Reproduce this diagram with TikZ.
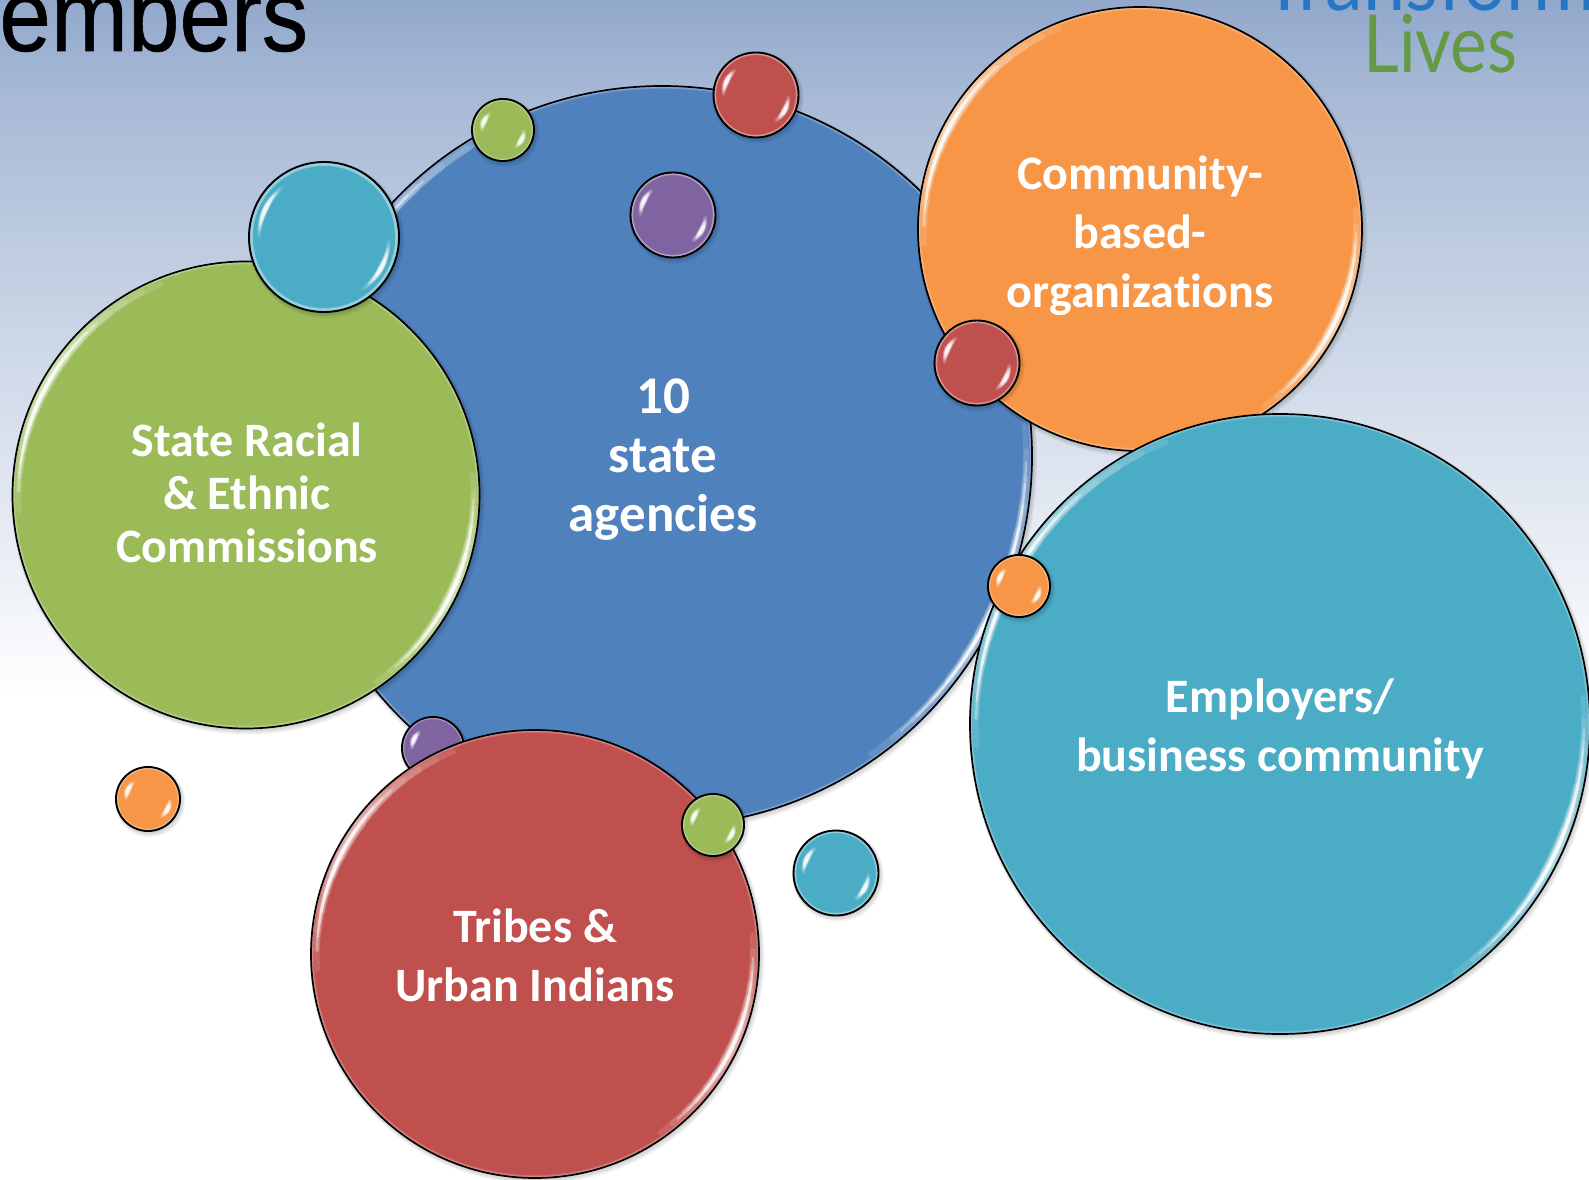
\documentclass[tikz,border=0pt]{standalone}
\usepackage{fontspec}
\setmainfont[Ligatures=NoCommon]{Carlito}
\newfontfamily\titlef[FakeBold=0.6]{Liberation Sans}
\newfontfamily\logof{Lato}
\definecolor{cblue}{HTML}{4F81BD}
\definecolor{corange}{HTML}{F79646}
\definecolor{cteal}{HTML}{4BACC6}
\definecolor{cgreen}{HTML}{9BBB59}
\definecolor{cred}{HTML}{C0504D}
\definecolor{cpurple}{HTML}{8064A2}
\definecolor{logoblue}{HTML}{2377C4}
\definecolor{logogreen}{HTML}{659A44}
\definecolor{bg0}{HTML}{92A8CB}
\definecolor{bg1}{HTML}{A8BAD6}
\definecolor{bg2}{HTML}{C6D2E4}
\definecolor{bg3}{HTML}{E2E8F1}
\pgfdeclareverticalshading{slidebg}{100bp}{color(0bp)=(white); color(25bp)=(white); color(45.3bp)=(white); color(53.8bp)=(bg3); color(62.3bp)=(bg2); color(70.8bp)=(bg1); color(75bp)=(bg0); color(100bp)=(bg0)}
\tikzset{
  bub/.style={circle,inner sep=0pt,outer sep=0pt},
  lab/.style={text=white,font=\bfseries\fontsize{24}{29.5}\selectfont,align=center},
  labb/.style={text=white,font=\bfseries\fontsize{26.5}{29.5}\selectfont,align=center},
  labg/.style={text=white,font=\bfseries\fontsize{24}{26.5}\selectfont,align=center}
}
% crescent: centre node, radius, mid angle, half span, width, opacity
\newcommand{\crescent}[6]{%
  \foreach \k in {1,...,7}{%
    \pgfmathsetmacro{\sp}{#4*(1-(\k-1)/7)}%
    \pgfmathsetmacro{\wd}{#5*(0.4+0.6*\k/7)}%
    \draw[white,opacity=#6,line width=\wd*0.5pt,line cap=round]
      ([shift={(#3-\sp:#2)}]#1.center) arc[start angle=#3-\sp,end angle=#3+\sp,radius=#2];
  }}
% name, x, y, r, colour, rim width
\newcommand{\bubbleBase}[6]{%
  \foreach \k in {1,...,4}{\fill[black,opacity=.05] (#2+\k*0.5,{1179-#3-\k*0.7}) circle[radius=#4+\k*0.8];}
  \node[bub,fill=#5,minimum size=#4 pt] (#1) at (#2,{1179-#3}) {};
  \begin{scope}
    \clip (#1.center) circle[radius=#4];
    \foreach \k in {1,...,5}{\draw[white,opacity=.11,line width=#6*\k*0.4pt] (#1.center) circle[radius=#4];}
  \end{scope}}
\newcommand{\bigbub}[5]{%
  \bubbleBase{#1}{#2}{#3}{#4}{#5}{1.5}
  \crescent{#1}{#4-6}{148}{36}{11}{.12}
  \crescent{#1}{#4-6}{-25}{30}{11}{.12}
  \crescent{#1}{#4-6}{155}{24}{4.5}{.32}
  \crescent{#1}{#4-6}{-25}{24}{4.5}{.32}
  \draw[black,line width=0.85pt] (#1.center) circle[radius=#4];}
\newcommand{\smallbub}[5]{%
  \bubbleBase{#1}{#2}{#3}{#4}{#5}{#4*0.04+0.6}
  \crescent{#1}{#4-10}{155}{25}{7}{.12}
  \crescent{#1}{#4-10}{-28}{25}{7}{.12}
  \crescent{#1}{#4-10}{155}{18}{4.5}{.25}
  \crescent{#1}{#4-10}{-28}{18}{4.5}{.25}
  \draw[black,line width=0.95pt] (#1.center) circle[radius=#4];}
\begin{document}
\begin{tikzpicture}[x=0.5pt,y=0.5pt]
\useasboundingbox (0,0) rectangle (1589,1179);
\begin{scope}
\clip (0,0) rectangle (1589,1179);
\shade[shading=slidebg] (0,0) rectangle (1589,1179);
\node[anchor=base west,inner sep=0pt,yscale=1.12,font=\titlef\fontsize{46.3}{46.3}\selectfont,text=black] (title) at (-1,1128) {embers};
\node[anchor=base west,inner sep=0pt,xscale=0.9,font=\logof\fontsize{42}{42}\selectfont,text=logoblue] (logotop) at (1262,1168) {Transformi};
\node[anchor=base west,inner sep=0pt,xscale=0.87,font=\logof\fontsize{40}{40}\selectfont,text=logogreen] (logolives) at (1363,1106) {Lives};
\bigbub{agencies}{662}{456}{370}{cblue}
\smallbub{sgreenA}{503}{130}{31}{cgreen}
\smallbub{sredA}{756}{95}{42.5}{cred}
\smallbub{spurpleA}{673}{215}{42.5}{cpurple}
\bigbub{racial}{246}{495}{233.5}{cgreen}
\smallbub{stealA}{324}{237}{75}{cteal}
\bigbub{cbo}{1140}{229}{222}{corange}
\smallbub{sredB}{977}{363}{42.5}{cred}
\bigbub{employers}{1280}{724}{310}{cteal}
\smallbub{sorangeA}{1019}{586}{31}{corange}
\smallbub{spurpleB}{433}{748}{31}{cpurple}
\bigbub{tribes}{535}{954}{224}{cred}
\smallbub{sgreenB}{713}{825}{31}{cgreen}
\smallbub{sorangeB}{148}{799}{32}{corange}
\smallbub{stealB}{836}{873}{42.5}{cteal}
\node[labb] (tagencies) at (663,{1179-459.5}) {10\\state\\agencies};
\node[lab] (tcbo) at (1140,{1179-236}) {Community-\\based-\\organizations};
\node[labg] (tracial) at (247,{1179-493}) {State Racial\\\& Ethnic\\Commissions};
\node[lab] (temployers) at (1280,{1179-729}) {Employers/\\business community};
\node[lab] (ttribes) at (535,{1179-955}) {Tribes \&\\Urban Indians};
\end{scope}
\end{tikzpicture}
\end{document}
